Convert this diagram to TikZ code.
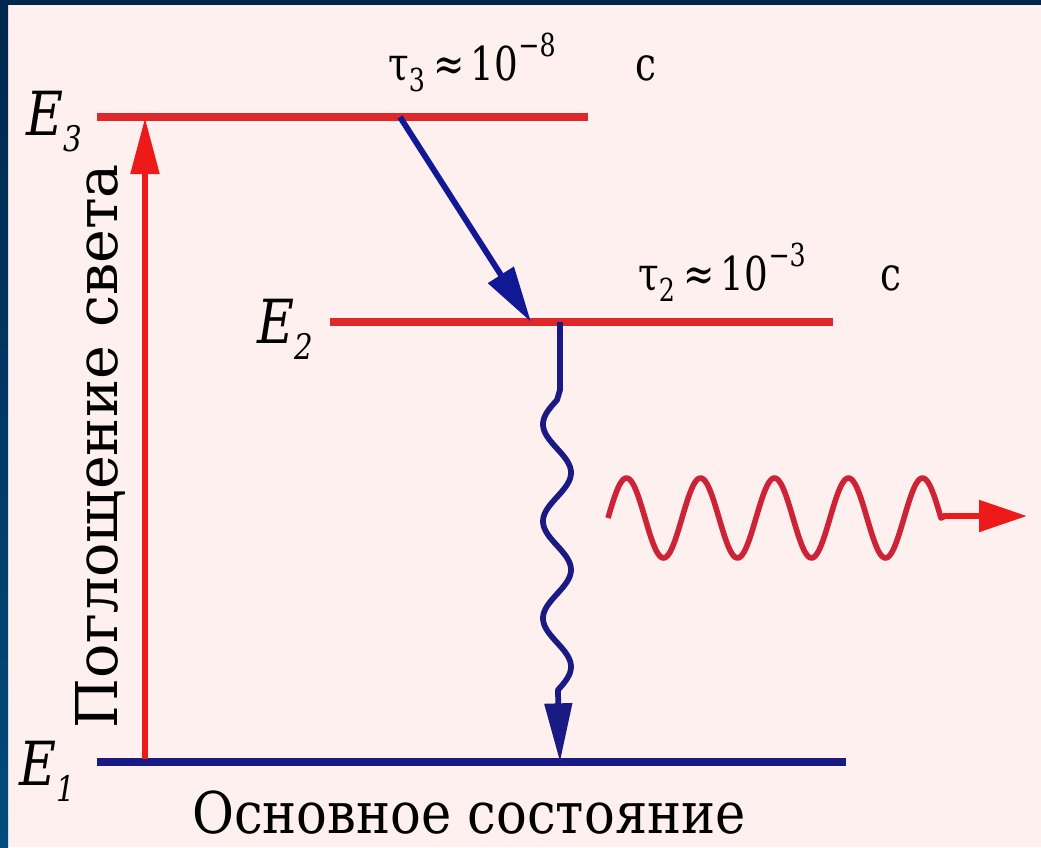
\documentclass[tikz,border=0pt]{standalone}
\usepackage{fontspec}
\usepackage{graphicx}
\setmainfont{DejaVu Serif}
\usetikzlibrary{arrows.meta}
\definecolor{bg}{HTML}{FDF0EE}
\definecolor{navy}{HTML}{00264D}
\definecolor{navyb}{HTML}{004C7C}
\definecolor{lvlred}{HTML}{E0282C}
\definecolor{arrred}{HTML}{EE1A1A}
\definecolor{wavered}{HTML}{CC2436}
\definecolor{lvlblue}{HTML}{1A1A84}
\definecolor{arrblue}{HTML}{101896}
\newcommand\vstretch[2]{\scalebox{1}[#1]{#2}}
\newcommand\smallsz{\fontsize{19}{19}\selectfont}
\tikzset{
  level/.style={line width=6pt},
  redlevel/.style={level, draw=lvlred},
  bluelevel/.style={level, draw=lvlblue},
  lab/.style={inner sep=0pt, text=black, font=\fontsize{28}{28}\selectfont},
  elab/.style={inner sep=0pt, text=black, font=\fontsize{38}{38}\selectfont\itshape},
}
\begin{document}
\begin{tikzpicture}[x=0.75pt,y=-0.75pt]
\useasboundingbox (0,0) rectangle (1041,847);
\fill[bg] (0,0) rectangle (1041,847);
\fill[navy] (0,0) rectangle (1041,5);
\shade[top color=navy, bottom color=navyb] (0,0) rectangle (8,847);

% levels
\coordinate (e3l) at (97,117);  \coordinate (e3r) at (588,117);
\coordinate (e2l) at (330,322); \coordinate (e2r) at (833,322);
\coordinate (e1l) at (97,762);  \coordinate (e1r) at (846,762);
\draw[redlevel] (e3l) -- (e3r);
\draw[redlevel] (e2l) -- (e2r);
\draw[bluelevel] (e1l) -- (e1r);

% absorption arrow
\coordinate (absB) at (145,759);
\coordinate (absT) at (145,118);
\draw[arrred, line width=4pt, -{Triangle[length=42pt,width=21pt]}] (absB) -- (absT);

% nonradiative transition
\coordinate (nrS) at (400,117);
\coordinate (nrE) at (531,322);
\draw[arrblue, line width=4.4pt, -{Triangle[length=42pt,width=22pt]}] (nrS) -- (nrE);

% spontaneous emission (wavy)
\coordinate (wS) at (560,322);
\coordinate (wE) at (560,762);
\draw[lvlblue, line width=4.3pt, line join=round, -{Triangle[length=44pt,width=20pt]}]
  (wS) -- (560,390) -- (557,400)
  -- plot[domain=400:690, samples=140, variable=\t] ({557-14*sin(3.7113*(\t-400))},\t)
  -- (wE);

% emitted photon
\coordinate (phE) at (1027,516);
\draw[wavered, line width=4.2pt, line join=round]
  plot[domain=608:941, samples=200, variable=\t] (\t,{518-40*sin(4.8649*(\t-608))})
  -- (945,516);
\draw[arrred, line width=4.8pt, -{Triangle[length=36pt,width=23pt]}] (943,516) -- (phE);

% labels
\node[elab, anchor=base west] (E3) at (26,135) {\vstretch{1.2}{E\raisebox{-10pt}{\fontsize{22}{22}\selectfont 3}}};
\node[elab, anchor=base west] (E2) at (257,343) {\vstretch{1.2}{E\raisebox{-10pt}{\fontsize{22}{22}\selectfont 2}}};
\node[elab, anchor=base west] (E1) at (19,785) {\vstretch{1.2}{E\raisebox{-10pt}{\fontsize{22}{22}\selectfont 1}}};

\node[lab, anchor=base west] (tau3) at (388,80) {\vstretch{1.25}{τ\raisebox{-7pt}{\smallsz 3}\hspace{6pt}≈\hspace{5pt}10\raisebox{14pt}{\smallsz −8}}};
\node[lab, anchor=base west] (tau3u) at (635,80) {\vstretch{1.25}{с}};
\node[lab, anchor=base west] (tau2) at (638,290) {\vstretch{1.25}{τ\raisebox{-7pt}{\smallsz 2}\hspace{6pt}≈\hspace{5pt}10\raisebox{14pt}{\smallsz −3}}};
\node[lab, anchor=base west] (tau2u) at (880,290) {\vstretch{1.25}{с}};

\node[inner sep=0pt, anchor=base, rotate=90] (absorb) at (117,446)
  {\resizebox{423pt}{31.5pt}{Поглощение света}};
\node[inner sep=0pt, anchor=base] (ground) at (469,833)
  {\resizebox{415pt}{32pt}{Основное состояние}};
\end{tikzpicture}
\end{document}
